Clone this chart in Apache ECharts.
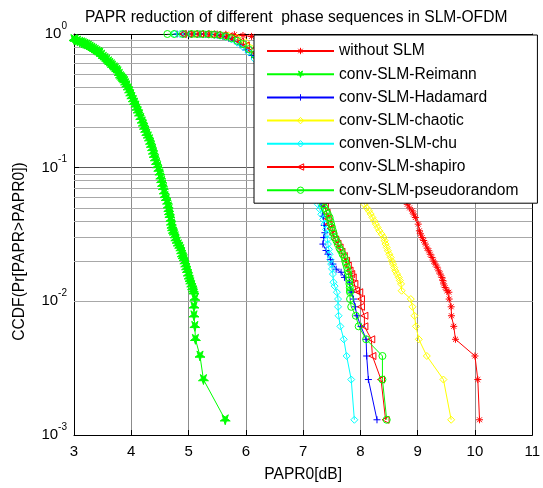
<!DOCTYPE html>
<html><head><meta charset="utf-8">
<script src="https://cdn.jsdelivr.net/npm/echarts@6/dist/echarts.min.js"></script>
<style>html,body{margin:0;padding:0;background:#fff}#c{width:543px;height:488px}</style>
</head><body><div id="c"></div>
<script>
const titleText = 'PAPR reduction of different  phase sequences in SLM-OFDM';
const xName = 'PAPR0[dB]';
const yName = 'CCDF(Pr[PAPR>PAPR0])';
const seriesNames = ['without SLM','conv-SLM-Reimann','conv-SLM-Hadamard','conv-SLM-chaotic','conven-SLM-chu','conv-SLM-shapiro','conv-SLM-pseudorandom'];
const seriesColors = ['#ff0000','#00ff00','#0000ff','#ffff00','#00ffff','#ff0000','#00ff00'];
const xTicks = [3,4,5,6,7,8,9,10,11];
const yMinorTicks = [0.002,0.003,0.004,0.005,0.006,0.007,0.008,0.009,0.02,0.03,0.04,0.05,0.06,0.07,0.08,0.09,0.2,0.3,0.4,0.5,0.6,0.7,0.8,0.9];

const withoutSLM = [[4.92,1],[5.05,1],[5.2,1],[5.35,0.999],[5.5,0.998],[5.65,0.995],[5.8,0.988],[5.95,0.975],[6.1,0.96],[6.4,0.92],[6.8,0.82],[7.2,0.66],[7.6,0.46],[8.0,0.27],[8.3,0.15],[8.6,0.08],[8.75,0.06],[8.818,0.0532],[8.86,0.05],[8.905,0.0475],[8.93,0.045],[8.96,0.0424],[9.01,0.0378],[9.03,0.0337],[9.05,0.032],[9.078,0.03],[9.105,0.0285],[9.135,0.0268],[9.165,0.025],[9.194,0.0239],[9.22,0.0225],[9.251,0.0213],[9.28,0.02],[9.308,0.019],[9.34,0.018],[9.367,0.0169],[9.395,0.016],[9.424,0.0151],[9.44,0.0143],[9.454,0.0135],[9.48,0.0127],[9.511,0.012],[9.545,0.0117],[9.55,0.0104],[9.585,0.0091],[9.59,0.0078],[9.63,0.0065],[9.66,0.0052],[10.0,0.0039],[10.05,0.0026],[10.08,0.0013]];

const reimann = [[3.0,0.91],[3.02,0.9],[3.06,0.885],[3.1,0.87],[3.13,0.86],[3.16,0.85],[3.19,0.84],[3.22,0.828],[3.25,0.815],[3.28,0.8],[3.31,0.785],[3.34,0.77],[3.37,0.755],[3.4,0.74],[3.43,0.728],[3.45,0.718],[3.48,0.695],[3.51,0.67],[3.54,0.655],[3.57,0.64],[3.6,0.62],[3.623,0.604],[3.65,0.59],[3.67,0.575],[3.7,0.56],[3.72,0.55],[3.745,0.535],[3.767,0.523],[3.79,0.5],[3.81,0.48],[3.83,0.47],[3.85,0.46],[3.865,0.45],[3.883,0.441],[3.9,0.425],[3.92,0.41],[3.945,0.39],[3.97,0.371],[3.99,0.352],[4.01,0.335],[4.035,0.318],[4.056,0.304],[4.08,0.29],[4.1,0.275],[4.12,0.262],[4.143,0.249],[4.165,0.234],[4.19,0.22],[4.21,0.209],[4.229,0.198],[4.25,0.188],[4.27,0.178],[4.295,0.17],[4.316,0.162],[4.335,0.153],[4.35,0.145],[4.37,0.137],[4.385,0.129],[4.4,0.122],[4.42,0.115],[4.44,0.108],[4.46,0.102],[4.48,0.096],[4.5,0.09],[4.515,0.084],[4.529,0.079],[4.545,0.074],[4.56,0.07],[4.575,0.065],[4.588,0.061],[4.61,0.058],[4.633,0.0545],[4.645,0.051],[4.655,0.048],[4.665,0.0455],[4.674,0.0433],[4.69,0.0405],[4.7,0.038],[4.71,0.036],[4.72,0.0345],[4.735,0.033],[4.75,0.032],[4.765,0.0305],[4.778,0.029],[4.8,0.0278],[4.82,0.0265],[4.845,0.0255],[4.865,0.0244],[4.878,0.0232],[4.89,0.022],[4.905,0.0213],[4.922,0.0206],[4.935,0.0195],[4.95,0.0185],[4.965,0.0176],[4.979,0.0168],[4.995,0.0158],[5.01,0.015],[5.025,0.0144],[5.038,0.0138],[5.055,0.0131],[5.07,0.0125],[5.085,0.012],[5.095,0.0116],[5.11,0.0104],[5.095,0.0091],[5.095,0.0078],[5.11,0.0065],[5.12,0.0052],[5.2,0.0039],[5.26,0.0026],[5.64,0.0013]];

const hadamard = [[4.8,1],[4.9,1],[5.0,1],[5.1,0.999],[5.2,0.998],[5.3,0.995],[5.4,0.99],[5.5,0.98],[5.6,0.96],[5.7,0.93],[5.8,0.89],[5.9,0.83],[6.0,0.76],[6.1,0.69],[6.2,0.62],[6.4,0.47],[6.6,0.33],[6.8,0.21],[7.0,0.13],[7.1,0.098],[7.2,0.072],[7.28,0.058],[7.32,0.0514],[7.35,0.0433],[7.37,0.037],[7.38,0.0326],[7.36,0.03],[7.346,0.0268],[7.4,0.024],[7.433,0.0225],[7.48,0.0205],[7.52,0.019],[7.577,0.0174],[7.663,0.0165],[7.722,0.0151],[7.809,0.0139],[7.836,0.012],[7.85,0.0117],[7.88,0.0104],[7.91,0.0091],[7.94,0.0078],[8.01,0.0065],[8.1,0.0052],[8.11,0.0039],[8.14,0.0026],[8.29,0.0013]];

const chaotic = [[4.95,1],[5.1,1],[5.25,0.999],[5.4,0.997],[5.55,0.99],[5.7,0.975],[5.85,0.94],[6.0,0.87],[6.2,0.78],[6.4,0.7],[6.6,0.61],[6.8,0.51],[7.0,0.42],[7.2,0.33],[7.4,0.25],[7.6,0.17],[7.8,0.11],[7.95,0.075],[8.07,0.0532],[8.11,0.05],[8.15,0.0475],[8.18,0.045],[8.21,0.0424],[8.24,0.04],[8.27,0.0378],[8.3,0.0357],[8.33,0.0337],[8.37,0.0318],[8.41,0.03],[8.425,0.0284],[8.44,0.0268],[8.46,0.0253],[8.48,0.0239],[8.505,0.0225],[8.53,0.0213],[8.55,0.02],[8.57,0.019],[8.59,0.0179],[8.61,0.0169],[8.64,0.016],[8.67,0.0151],[8.69,0.0143],[8.71,0.0135],[8.72,0.012],[8.88,0.0104],[8.91,0.0091],[8.945,0.0078],[8.97,0.0065],[9.02,0.0052],[9.16,0.0039],[9.45,0.0026],[9.585,0.0013]];

const chu = [[4.75,1],[4.85,1],[4.95,1],[5.05,0.999],[5.15,0.998],[5.25,0.996],[5.35,0.992],[5.45,0.985],[5.55,0.97],[5.65,0.95],[5.75,0.91],[5.85,0.86],[5.95,0.8],[6.05,0.73],[6.15,0.65],[6.3,0.53],[6.5,0.38],[6.7,0.25],[6.9,0.155],[7.05,0.105],[7.15,0.078],[7.22,0.062],[7.26,0.0532],[7.29,0.049],[7.317,0.0448],[7.35,0.041],[7.376,0.0378],[7.4,0.0345],[7.416,0.0318],[7.425,0.029],[7.433,0.0268],[7.45,0.0245],[7.462,0.0225],[7.475,0.0205],[7.49,0.019],[7.505,0.0175],[7.52,0.016],[7.53,0.0139],[7.55,0.013],[7.59,0.0117],[7.61,0.0104],[7.61,0.0091],[7.62,0.0078],[7.65,0.0065],[7.71,0.0052],[7.76,0.0039],[7.84,0.0026],[7.895,0.0013]];

const shapiro = [[4.9,1],[5.0,1],[5.1,1],[5.2,0.999],[5.3,0.997],[5.4,0.994],[5.5,0.987],[5.6,0.975],[5.7,0.955],[5.8,0.92],[5.9,0.875],[6.0,0.82],[6.1,0.75],[6.25,0.64],[6.45,0.48],[6.65,0.34],[6.85,0.22],[7.0,0.155],[7.15,0.105],[7.25,0.078],[7.32,0.062],[7.38,0.0514],[7.41,0.046],[7.43,0.0415],[7.445,0.0378],[7.48,0.035],[7.52,0.0318],[7.56,0.029],[7.6,0.027],[7.636,0.0253],[7.67,0.0235],[7.71,0.0218],[7.75,0.0201],[7.78,0.0185],[7.81,0.017],[7.84,0.016],[7.866,0.0151],[7.895,0.0135],[7.923,0.012],[7.98,0.0117],[8.01,0.0104],[8.01,0.0091],[8.07,0.0078],[8.07,0.0065],[8.19,0.0052],[8.21,0.0039],[8.36,0.0026],[8.44,0.0013]];

const pseudorandom = [[4.63,1],[4.75,1],[4.9,1],[5.05,1],[5.15,0.999],[5.25,0.998],[5.35,0.995],[5.45,0.99],[5.55,0.98],[5.65,0.96],[5.75,0.93],[5.85,0.89],[5.95,0.84],[6.05,0.77],[6.15,0.7],[6.3,0.58],[6.5,0.43],[6.7,0.29],[6.9,0.18],[7.05,0.125],[7.15,0.095],[7.25,0.07],[7.3,0.06],[7.346,0.0532],[7.375,0.05],[7.403,0.0475],[7.43,0.045],[7.462,0.0424],[7.475,0.04],[7.49,0.0378],[7.505,0.0357],[7.52,0.0337],[7.535,0.032],[7.549,0.03],[7.58,0.0285],[7.606,0.0268],[7.635,0.025],[7.663,0.0239],[7.69,0.0225],[7.722,0.0213],[7.735,0.02],[7.75,0.019],[7.765,0.018],[7.779,0.0169],[7.79,0.016],[7.797,0.0151],[7.805,0.0143],[7.809,0.0135],[7.815,0.0127],[7.819,0.012],[7.819,0.0117],[7.82,0.0104],[7.84,0.0091],[7.92,0.0078],[7.97,0.0065],[8.1,0.0052],[8.385,0.0039],[8.385,0.0026],[8.46,0.0013]];

const seriesData = [withoutSLM, reimann, hadamard, chaotic, chu, shapiro, pseudorandom];
const asterisk = 'path://M5,0L5,10M0,5L10,5M1.5,1.5L8.5,8.5M8.5,1.5L1.5,8.5';
const plus = 'path://M5,0L5,10M0,5L10,5';
const pentagram = 'path://M5,0L6.18,3.6L10,3.6L6.9,5.9L8.1,9.5L5,7.3L1.9,9.5L3.1,5.9L0,3.6L3.82,3.6Z';
const symbols = [asterisk, pentagram, plus, 'diamond', 'diamond', 'triangle', 'circle'];
const symbolRot = [0,180,0,0,0,90,0];
const symbolSizes = [7,10,7,7,7,7,7];
const symbolFilled = [false,true,false,false,false,false,false];

const FONT = 'Liberation Sans, Arial, sans-serif';
const chart = echarts.init(document.getElementById('c'), null, {renderer:'canvas'});

const series = seriesNames.map((n,i)=>({
  name: n, type: 'line', data: seriesData[i],
  symbol: symbols[i], symbolSize: symbolSizes[i], symbolRotate: symbolRot[i],
  showAllSymbol: true,
  lineStyle: {color: seriesColors[i], width: 1},
  itemStyle: {color: symbolFilled[i] ? seriesColors[i] : 'rgba(0,0,0,0)', borderColor: seriesColors[i], borderWidth: 1},
  emphasis: {disabled: true},
  z: 2
}));
series[0].markLine = {
  silent: true, z: 1, symbol: ['none','none'], animation: false,
  label: {show: false},
  lineStyle: {color: '#a8a8a8', type: 'solid', width: 1},
  data: yMinorTicks.map(v=>({yAxis: v}))
};

chart.setOption({
  animation: false,
  backgroundColor: '#fff',
  textStyle: {fontFamily: FONT},
  title: {text: titleText, left: 80, top: 5, textStyle: {fontFamily: FONT, fontSize: 15.6, fontWeight: 'normal', color: '#000'}},
  grid: {left: 74, right: 7, top: 34, bottom: 52, show: false},
  legend: {
    orient: 'vertical', left: 254, top: 35,
    padding: [8, 19, 5, 12], itemWidth: 67, itemHeight: 8, itemGap: 7.2,
    backgroundColor: '#fff', borderColor: '#000', borderWidth: 1, borderRadius: 0,
    selectedMode: false,
    itemStyle: {borderWidth: 1},
    textStyle: {fontFamily: FONT, fontSize: 15.6, color: '#000'},
    data: seriesNames
  },
  xAxis: [{
    type: 'value', min: 3, max: 11, interval: 1,
    name: xName, nameLocation: 'middle', nameGap: 32,
    nameTextStyle: {fontFamily: FONT, fontSize: 15.6, color: '#000'},
    axisLine: {lineStyle: {color: '#000', width: 1}},
    axisTick: {inside: true, length: 5, lineStyle: {color: '#000'}},
    axisLabel: {fontFamily: FONT, fontSize: 15, color: '#000', margin: 9, formatter: v => xTicks.includes(v) ? String(v) : ''},
    splitLine: {show: true, lineStyle: {color: '#8c8c8c', width: 1}}
  },{
    type: 'value', min: 3, max: 11, interval: 1, position: 'top',
    axisLine: {lineStyle: {color: '#000', width: 1}},
    axisTick: {inside: true, length: 5, lineStyle: {color: '#000'}},
    axisLabel: {show: false}, splitLine: {show: false}
  }],
  yAxis: [{
    type: 'log', logBase: 10, min: 0.001, max: 1,
    name: yName, nameLocation: 'middle', nameGap: 46,
    nameTextStyle: {fontFamily: FONT, fontSize: 15.6, color: '#000', padding: [0, 34, 0, 0]},
    axisLine: {lineStyle: {color: '#000', width: 1}},
    axisTick: {inside: true, length: 5, lineStyle: {color: '#000'}},
    axisLabel: {
      margin: 7, color: '#000',
      formatter: v => '{b|10}{e|' + Math.round(Math.log10(v)) + '}',
      rich: {
        b: {fontFamily: FONT, fontSize: 15, color: '#000', lineHeight: 26, verticalAlign: 'middle'},
        e: {fontFamily: FONT, fontSize: 10, color: '#000', lineHeight: 10, verticalAlign: 'top'}
      }
    },
    splitLine: {show: true, lineStyle: {color: '#5a5a5a', width: 1}}
  },{
    type: 'log', logBase: 10, min: 0.001, max: 1, position: 'right',
    axisLine: {lineStyle: {color: '#000', width: 1}},
    axisTick: {inside: true, length: 5, lineStyle: {color: '#000'}},
    axisLabel: {show: false}, splitLine: {show: false}
  }],
  series: series
});
</script></body></html>
